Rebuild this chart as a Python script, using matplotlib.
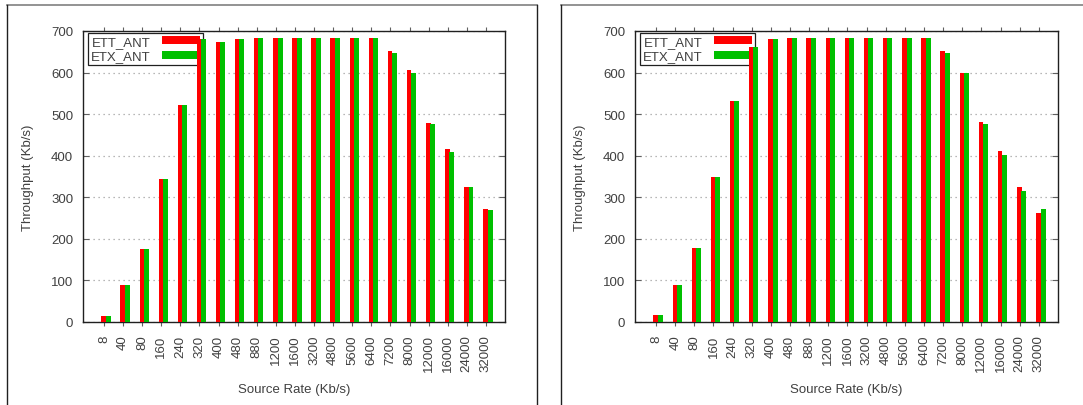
import matplotlib.pyplot as plt
from matplotlib.lines import Line2D
import numpy as np

plt.rcParams['font.family'] = ['Liberation Sans', 'DejaVu Sans']

rates = ['8', '40', '80', '160', '240', '320', '400', '480', '880', '1200', '1600',
         '3200', '4800', '5600', '6400', '7200', '8000', '12000', '16000', '24000', '32000']

# left chart
ett_left = [15, 89, 175, 345, 522, 680, 674, 680, 682, 682, 682,
             682, 682, 682, 682, 653, 607, 478, 415, 324, 272]
etx_left = [15, 89, 175, 345, 522, 680, 674, 680, 682, 682, 682,
             682, 682, 682, 682, 648, 600, 476, 409, 324, 269]

# right chart
ett_right = [18, 89, 178, 349, 532, 661, 680, 682, 682, 682, 682,
              682, 682, 682, 682, 651, 598, 482, 411, 325, 262]
etx_right = [18, 89, 178, 349, 532, 661, 680, 682, 682, 682, 682,
              682, 682, 682, 682, 648, 598, 476, 402, 315, 272]

W, H = 1083, 406
fig = plt.figure(figsize=(W / 100, H / 100), dpi=100)
txt = '#404040'
fs = 9.5


def draw(ax, ett, etx):
    x = np.arange(len(rates))
    ax.bar(x - 0.14, ett, width=0.24, align='edge', color='#ff0000', label='ETT_ANT', zorder=3)
    ax.bar(x + 0.09, etx, width=0.26, align='edge', color='#00c000', label='ETX_ANT', zorder=3)
    ax.set_xlim(-1.1, 21.0)
    ax.set_ylim(0, 700)
    ax.set_yticks(range(0, 701, 100))
    ax.set_xticks(x)
    ax.set_xticklabels(rates, rotation=90, fontsize=fs, color=txt)
    ax.tick_params(axis='x', direction='out', length=3, width=0.8, top=True,
                   color='#606060', pad=6)
    ax.tick_params(axis='y', direction='in', length=4, width=0.8, right=True,
                   color='#606060', labelsize=fs, labelcolor=txt, pad=7)
    ax.yaxis.grid(True, linestyle=(0, (1, 3)), color='#a0a0a0', linewidth=0.9)
    ax.set_axisbelow(True)
    for s in ax.spines.values():
        s.set_color('#202020')
        s.set_linewidth(1.0)
    ax.set_xlabel('Source Rate (Kb/s)', fontsize=fs, color=txt, labelpad=8)
    ax.set_ylabel('Throughput (Kb/s)', fontsize=fs, color=txt, labelpad=12)
    leg = ax.legend(loc='upper left', bbox_to_anchor=(0.012, 0.993), markerfirst=False,
                    fancybox=False, edgecolor='#202020', framealpha=1, fontsize=fs,
                    handlelength=2.9, handleheight=0.55, labelspacing=0.2,
                    borderpad=0.2, handletextpad=0.9, borderaxespad=0.0)
    leg.get_frame().set_linewidth(0.9)
    leg.set_zorder(2.5)
    for t in leg.get_texts():
        t.set_color(txt)


ax1 = fig.add_axes([83 / W, 1 - 323 / H, (505 - 83) / W, (323 - 32) / H])
draw(ax1, ett_left, etx_left)
ax2 = fig.add_axes([635 / W, 1 - 323 / H, (1058 - 635) / W, (323 - 32) / H])
draw(ax2, ett_right, etx_right)


def px(x, y):
    return x / W, 1 - y / H


# panel borders
for x0, x1 in [(7, 537), (561, 1083)]:
    xa, ya = px(x0, 6)
    xb, _ = px(x1, 6)
    fig.add_artist(Line2D([xa, xb], [ya, ya], color='#808080', linewidth=1.2))
    fig.add_artist(Line2D([xa, xa], [ya, 0], color='#202020', linewidth=1.0))
    if x1 < W:
        fig.add_artist(Line2D([xb, xb], [ya, 0], color='#202020', linewidth=1.0))

fig.savefig('out.png', dpi=100)
